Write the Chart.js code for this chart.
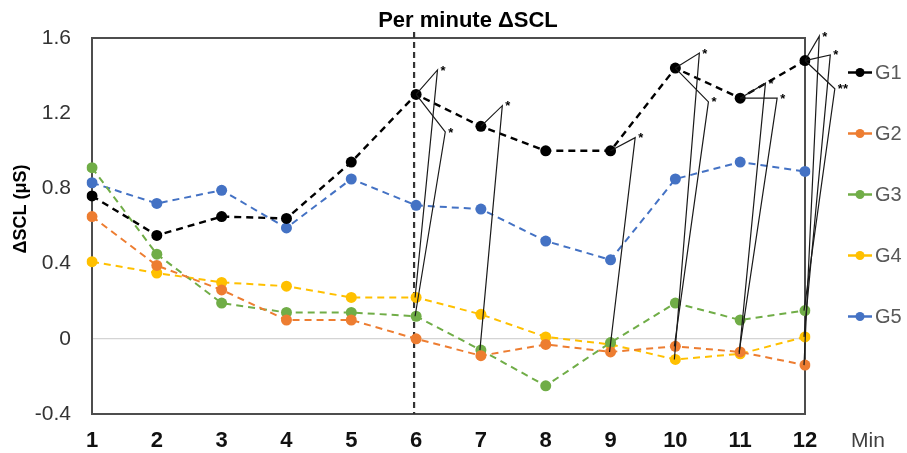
<!DOCTYPE html>
<html>
<head>
<meta charset="utf-8">
<script src="https://cdn.jsdelivr.net/npm/chart.js@4.4.1/dist/chart.umd.min.js"></script>
<style>
  html, body { margin: 0; padding: 0; background: #fff; }
  #c { display: block; }
</style>
</head>
<body>
<canvas id="c" width="907" height="453"></canvas>
<script>
// ---- data ----
const minutes = ['1','2','3','4','5','6','7','8','9','10','11','12'];
const seriesNames = ['G1','G2','G3','G4','G5'];
const g1 = [0.76, 0.55, 0.65, 0.64, 0.94, 1.30, 1.13, 1.00, 1.00, 1.44, 1.28, 1.48];
const g2 = [0.65, 0.39, 0.26, 0.10, 0.10, 0.00, -0.09, -0.03, -0.07, -0.04, -0.07, -0.14];
const g3 = [0.91, 0.45, 0.19, 0.14, 0.14, 0.12, -0.06, -0.25, -0.02, 0.19, 0.10, 0.15];
const g4 = [0.41, 0.35, 0.30, 0.28, 0.22, 0.22, 0.13, 0.01, -0.03, -0.11, -0.08, 0.01];
const g5 = [0.83, 0.72, 0.79, 0.59, 0.85, 0.71, 0.69, 0.52, 0.42, 0.85, 0.94, 0.89];
const yTicks = [-0.4, 0, 0.4, 0.8, 1.2, 1.6];
const markerMinute = '6';
// significance brackets: G1 at a minute vs another group (apex given in data units)
const sigBrackets = [
  { min: '6',  to: 'G4', dx: 0.33, top: 1.43, mark: '*' },
  { min: '6',  to: 'G3', dx: 0.45, top: 1.10, mark: '*' },
  { min: '7',  to: 'G3', dx: 0.33, top: 1.24, mark: '*' },
  { min: '9',  to: 'G2', dx: 0.38, top: 1.07, mark: '*' },
  { min: '10', to: 'G4', dx: 0.37, top: 1.52, mark: '*' },
  { min: '10', to: 'G2', dx: 0.51, top: 1.26, mark: '*' },
  { min: '11', to: 'G4', dx: 0.39, top: 1.36, mark: '*' },
  { min: '11', to: 'G2', dx: 0.57, top: 1.28, mark: '*' },
  { min: '12', to: 'G2', dx: 0.22, top: 1.61, mark: '*' },
  { min: '12', to: 'G4', dx: 0.39, top: 1.51, mark: '*' },
  { min: '12', to: 'G3', dx: 0.46, top: 1.33, mark: '**' }
];

const seriesValues = { G1: g1, G2: g2, G3: g3, G4: g4, G5: g5 };
const colors = { G1: '#000000', G2: '#ED7D31', G3: '#70AD47', G4: '#FFC000', G5: '#4472C4' };
const FONT = "'Liberation Sans', Arial, sans-serif";

const datasets = seriesNames.map(n => ({
  label: n,
  data: seriesValues[n],
  borderColor: colors[n],
  backgroundColor: colors[n],
  pointBackgroundColor: colors[n],
  pointBorderColor: colors[n],
  pointBorderWidth: 0,
  pointRadius: 5.5,
  borderWidth: n === 'G1' ? 2.4 : 2,
  borderDash: [7, 5],
  tension: 0,
  fill: false
}));

const extras = {
  id: 'extras',
  beforeDatasetsDraw(chart) {
    const { ctx, chartArea: a, scales: { x } } = chart;
    ctx.save();
    ctx.strokeStyle = '#4d4d4d';
    ctx.lineWidth = 2;
    ctx.strokeRect(a.left, a.top, a.right - a.left, a.bottom - a.top);
    const mx = x.getPixelForValue(minutes.indexOf(markerMinute)) - 2;
    ctx.strokeStyle = '#333';
    ctx.lineWidth = 2.2;
    ctx.setLineDash([6, 4]);
    ctx.beginPath();
    ctx.moveTo(mx, a.top - 6);
    ctx.lineTo(mx, a.bottom);
    ctx.stroke();
    ctx.restore();
  },
  afterDatasetsDraw(chart) {
    const { ctx, scales: { x, y } } = chart;
    const step = x.getPixelForValue(1) - x.getPixelForValue(0);
    ctx.save();
    ctx.strokeStyle = '#1a1a1a';
    ctx.fillStyle = '#000';
    ctx.lineWidth = 1.2;
    ctx.font = 'bold 13px ' + FONT;
    ctx.textAlign = 'left';
    ctx.textBaseline = 'middle';
    sigBrackets.forEach(b => {
      const i = minutes.indexOf(b.min);
      const px = x.getPixelForValue(i);
      const fy = y.getPixelForValue(g1[i]);
      const ty = y.getPixelForValue(seriesValues[b.to][i]);
      const ax = px + b.dx * step;
      const ay = y.getPixelForValue(b.top);
      ctx.beginPath();
      ctx.moveTo(px, fy);
      ctx.lineTo(ax, ay);
      ctx.lineTo(px - 1, ty);
      ctx.stroke();
      ctx.fillText(b.mark, ax + 3, ay + 1);
    });
    ctx.restore();
  },
  afterDraw(chart) {
    const { ctx, chartArea: a } = chart;
    ctx.save();
    ctx.fillStyle = '#000';
    ctx.font = 'bold 22px ' + FONT;
    ctx.textAlign = 'center';
    ctx.textBaseline = 'middle';
    ctx.fillText('Per minute ΔSCL', 468, 21);
    ctx.save();
    ctx.translate(21, 209);
    ctx.rotate(-Math.PI / 2);
    ctx.font = 'bold 18px ' + FONT;
    ctx.fillText('ΔSCL (μS)', 0, 0);
    ctx.restore();
    ctx.fillStyle = '#404040';
    ctx.font = '21px ' + FONT;
    ctx.fillText('Min', 868, 441);
    chart.data.datasets.forEach((ds, i) => {
      const ly = a.top + 34.5 + i * 61;
      ctx.strokeStyle = ds.borderColor;
      ctx.lineWidth = 2.5;
      ctx.setLineDash([]);
      ctx.beginPath();
      ctx.moveTo(848, ly);
      ctx.lineTo(872, ly);
      ctx.stroke();
      ctx.fillStyle = ds.borderColor;
      ctx.beginPath();
      ctx.arc(860, ly, 4.5, 0, Math.PI * 2);
      ctx.fill();
      ctx.fillStyle = '#595959';
      ctx.font = '20px ' + FONT;
      ctx.textAlign = 'left';
      ctx.fillText(ds.label, 875, ly + 1);
    });
    ctx.restore();
  }
};

new Chart(document.getElementById('c'), {
  type: 'line',
  data: { labels: minutes, datasets },
  options: {
    responsive: false,
    animation: false,
    devicePixelRatio: 1,
    layout: { padding: { left: 0, top: 38, right: 102, bottom: 0 } },
    plugins: {
      legend: { display: false },
      title: { display: false },
      tooltip: { enabled: false }
    },
    scales: {
      x: {
        type: 'category',
        offset: false,
        grid: { display: false, drawTicks: false },
        border: { display: false },
        ticks: {
          padding: 14,
          color: '#111',
          font: { family: FONT, size: 22, weight: 'bold' },
          maxRotation: 0,
          autoSkip: false
        },
        afterFit(s) { s.height = 39; }
      },
      y: {
        min: -0.4,
        max: 1.6,
        afterBuildTicks(s) { s.ticks = yTicks.map(v => ({ value: v })); },
        grid: {
          drawTicks: false,
          color: c => (c.tick && c.tick.value === 0 ? '#d4d4d4' : 'rgba(0,0,0,0)'),
          lineWidth: 1.2
        },
        border: { display: false },
        ticks: {
          padding: 21,
          color: '#333',
          font: { family: FONT, size: 21 },
          callback: v => String(Math.round(v * 10) / 10)
        },
        afterFit(s) { s.width = 92; }
      }
    }
  },
  plugins: [extras]
});
</script>
</body>
</html>
